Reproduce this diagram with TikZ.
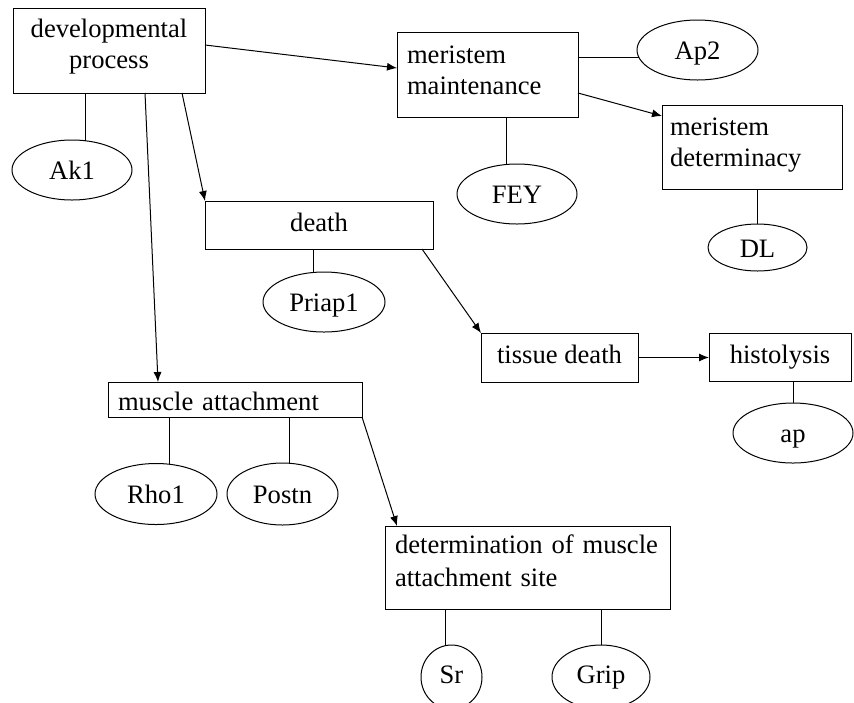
\documentclass[tikz,border=0pt]{standalone}
\usepackage{fontspec}
\setmainfont{Liberation Serif}
\usetikzlibrary{shapes.geometric,arrows.meta}

\begin{document}
\begin{tikzpicture}[x=0.5pt,y=-0.5pt,
  font=\fontsize{13.3}{15.5}\selectfont,
  every path/.style={line width=0.5pt},
  box/.style={draw, rectangle, inner sep=0pt, outer sep=0pt, align=center},
  lbox/.style={draw, rectangle, inner xsep=5pt, inner ysep=0pt, outer sep=0pt, align=left},
  oval/.style={draw, ellipse, inner sep=0pt, outer sep=0pt, text height=10.5pt, text depth=1pt},
  one/.style={text height=9.5pt, text depth=3.5pt},
  arr/.style={-{Latex[length=5pt,width=4pt]}}]
\useasboundingbox (0,0) rectangle (854,702);

% process terms
\node[box, inner xsep=3pt, text width=90pt, minimum height=42.5pt, text height=9pt, text depth=22.5pt] (dev) at (109,50.5) {developmental\\process};
\node[lbox, text width=80.5pt, minimum height=42.5pt, text height=9pt, text depth=20.5pt] (mm) at (487.5,74.5) {meristem\\maintenance};
\node[lbox, inner xsep=4pt, text width=82pt, minimum height=42pt, text height=9pt, text depth=21pt] (md) at (752,147) {meristem\\determinacy};
\node[box, one, minimum width=114pt, minimum height=24pt] (death) at (319,225) {death};
\node[box, one, minimum width=78.5pt, minimum height=24.5pt] (tissue) at (559.5,357.5) {tissue death};
\node[box, one, minimum width=71pt, minimum height=24pt] (histo) at (780,357) {histolysis};
\node[lbox, text width=117pt, minimum height=17.5pt, text height=11pt, text depth=0.5pt] (ma) at (235,399.5) {muscle attachment};
\node[lbox, text width=132.5pt, minimum height=41.5pt, text height=9pt, text depth=23pt,
  font=\fontsize{13.3}{16.5}\selectfont] (det) at (527.5,567.5) {determination of muscle\\attachment site};

% genes
\node[oval, minimum width=60pt, minimum height=30pt] (ak1) at (72,170) {Ak1};
\node[oval, minimum width=60.5pt, minimum height=30pt] (ap2) at (697.5,50) {Ap2};
\node[oval, minimum width=60pt, minimum height=30pt] (fey) at (517,194) {FEY};
\node[oval, minimum width=49.5pt, minimum height=23.5pt] (dl) at (757.5,247.5) {DL};
\node[oval, minimum width=61pt, minimum height=30pt] (priap) at (324,302) {Priap1};
\node[oval, minimum width=60pt, minimum height=30pt] (ap) at (793,433) {ap};
\node[oval, minimum width=61pt, minimum height=30.5pt] (rho) at (156,494) {Rho1};
\node[oval, minimum width=55.5pt, minimum height=31pt] (postn) at (282.5,494) {Postn};
\node[oval, minimum width=30.5pt, minimum height=32pt, text height=8pt, text depth=2pt] (sr) at (451.5,677) {Sr};
\node[oval, minimum width=49pt, minimum height=32pt, text height=8pt, text depth=2pt] (grip) at (601,677) {Grip};

% gene annotations
\draw (dev.south -| ak1.66) -- (ak1.66);
\draw (mm.east |- ap2.187) -- (ap2.187);
\draw (mm.south -| fey.110) -- (fey.110);
\draw (md.south -| dl.north) -- (dl.north);
\draw (death.south -| priap.110) -- (priap.110);
\draw (histo.south -| ap.north) -- (ap.north);
\draw (ma.south -| rho.66) -- (rho.66);
\draw (ma.south -| postn.78) -- (postn.78);
\draw (det.south -| sr.100) -- (sr.100);
\draw (det.south -| grip.north) -- (grip.north);

% is-a relations
\draw[arr] (dev.east |- 0,45) -- (mm.west |- 0,68);
\draw[arr] (dev.south -| 145,0) -- (ma.north -| 158,0);
\draw[arr] (dev.south -| 182,0) -- (death.north west);
\draw[arr] (mm.east |- 0,93) -- (md.west |- 0,116);
\draw[arr] (death.south -| 422,0) -- (tissue.north west);
\draw[arr] (tissue.east) -- (histo.west |- tissue.east);
\draw[arr] (ma.south east) -- (det.north -| 397,0);
\end{tikzpicture}
\end{document}
